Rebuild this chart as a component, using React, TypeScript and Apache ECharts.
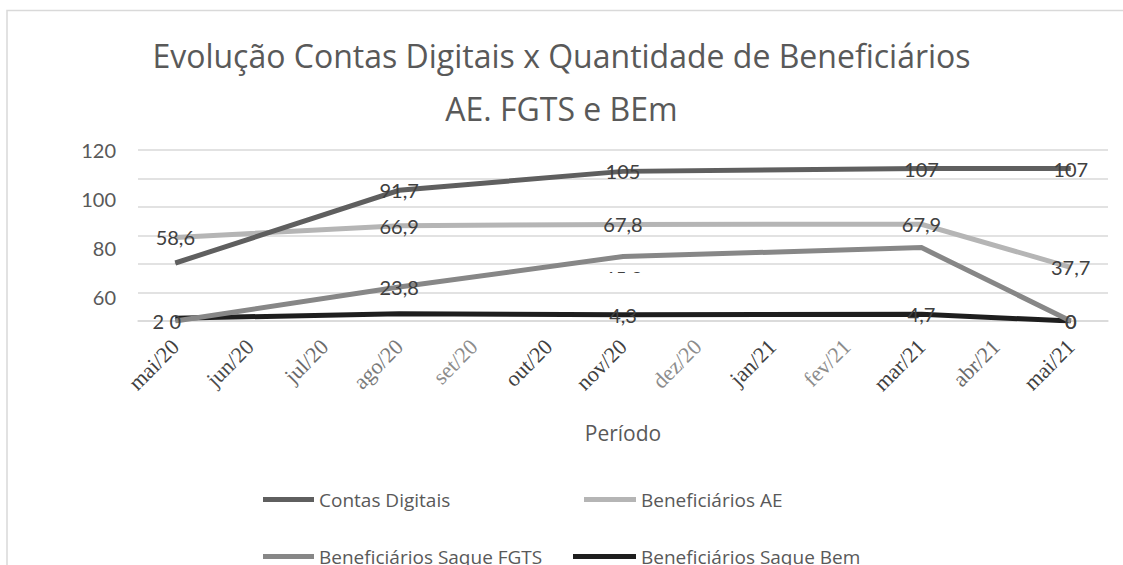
import React, { useEffect, useRef } from "react";
import * as echarts from "echarts";

const months = ["mai/20","jun/20","jul/20","ago/20","set/20","out/20","nov/20","dez/20","jan/21","fev/21","mar/21","abr/21","mai/21"];
const contasDigitais = [40.7, null, null, 91.7, null, null, 105, null, null, null, 107, null, 107];
const beneficiariosAE = [58.6, null, null, 66.9, null, null, 67.8, null, null, null, 67.9, null, 37.7];
const saqueFGTS = [0, null, null, 23.8, null, null, 45.2, null, null, null, 51.5, null, 0];
const saqueBem = [2, null, null, 5, null, null, 4.3, null, null, null, 4.7, null, 0];
const yTickLabels = [120, 100, 80, 60];
const titleLines = ["Evolução Contas Digitais x Quantidade de Beneficiários", "AE. FGTS e BEm"];
const seriesNames = ["Contas Digitais", "Beneficiários AE", "Beneficiários Saque FGTS", "Beneficiários Saque Bem"];
// indices whose labels are not visible in the reference
const hiddenLabels: number[][] = [[0], [], [10], [3]];
const monthTone = ["#404040","#4a4a4a","#6a6a6a","#7a7a7a","#8c8c8c","#404040","#404040","#8c8c8c","#404040","#8c8c8c","#404040","#6a6a6a","#404040"];

const colors = ["#5f5f5f", "#b5b5b5", "#878787", "#1e1e1e"];

export default function App() {
  const ref = useRef<HTMLDivElement>(null);
  useEffect(() => {
    if (!ref.current) return;
    const chart = echarts.init(ref.current, null, { renderer: "svg" });
    const all = [contasDigitais, beneficiariosAE, saqueFGTS, saqueBem];
    const labelFont = { fontFamily: "Lato", fontSize: 20, color: "#404040" };
    const series = all.map((arr, si) => ({
      name: seriesNames[si],
      type: "line",
      yAxisIndex: 0,
      connectNulls: true,
      symbol: "circle",
      symbolSize: 1,
      lineStyle: { width: 5, color: colors[si], cap: "butt", join: "miter" },
      itemStyle: { color: colors[si] },
      label: { show: true, position: "inside", ...labelFont, formatter: (p: any) => String(p.value).replace(".", ",") },
      emphasis: { disabled: true },
      z: 10 - si,
      data: arr.map((v, i) => {
        if (v === null) return null;
        const item: any = { value: v };
        if (hiddenLabels[si].includes(i)) item.label = { show: false };
        if (si === 2 && i === 6) item.label = { offset: [0, 21] };
        if (si === 3 && i === 0) item.label = { offset: [-17, 3] };
        return item;
      }),
    }));
    const legendBase = {
      icon: "rect",
      itemHeight: 5,
      itemGap: 0,
      textStyle: { fontFamily: "Open Sans", fontSize: 19, color: "#595959" },
      selectedMode: false,
    };
    const titleStyle = { fontFamily: "Open Sans", fontSize: 32, fontWeight: "normal", color: "#595959", lineHeight: 40 };
    chart.setOption({
      animation: false,
      title: [
        { text: titleLines[0], left: "center", top: 30, textStyle: titleStyle },
        { text: titleLines[1], left: "center", top: 83, textStyle: titleStyle },
      ],
      legend: [
        { ...legendBase, data: [seriesNames[0]], left: 258, top: 485, itemWidth: 51 },
        { ...legendBase, data: [seriesNames[1]], left: 579, top: 485, itemWidth: 52 },
        { ...legendBase, data: [seriesNames[2]], left: 258, top: 542, itemWidth: 51 },
        { ...legendBase, data: [seriesNames[3]], left: 568, top: 542, itemWidth: 63 },
      ],
      grid: { left: 138, right: 15, top: 150, bottom: 244, containLabel: false },
      xAxis: {
        type: "category",
        data: months.map((m, i) => ({ value: m, textStyle: { color: monthTone[i] } })),
        boundaryGap: true,
        axisLine: { show: true, lineStyle: { color: "#d9d9d9", width: 1.5 } },
        axisTick: { show: false },
        axisLabel: { rotate: 45, fontFamily: "Liberation Serif", fontSize: 22, margin: 22, interval: 0 },
        name: "Período",
        nameLocation: "middle",
        nameGap: 101,
        nameTextStyle: { fontFamily: "Open Sans", fontSize: 21, color: "#595959" },
      },
      yAxis: [
        {
          type: "value",
          min: 0,
          max: 120,
          interval: 20,
          axisLabel: { show: false },
          axisLine: { show: false },
          axisTick: { show: false },
          splitLine: { show: true, lineStyle: { color: "#d9d9d9", width: 1.5 } },
        },
        {
          type: "value",
          position: "left",
          min: 50,
          max: 120,
          interval: 10,
          axisLine: { show: false },
          axisTick: { show: false },
          splitLine: { show: false },
          axisLabel: {
            margin: 22,
            fontFamily: "Lato",
            fontSize: 20,
            color: "#595959",
            formatter: (v: number) => (yTickLabels.includes(v) ? String(v) : ""),
          },
        },
      ],
      series,
    });
    const p = chart.convertToPixel({ seriesIndex: 2 }, [6, saqueFGTS[6] as number]) as number[];
    chart.setOption({
      graphic: [
        {
          type: "polyline",
          shape: { points: [[7, 565], [7, 10.5], [1123, 10.5]] },
          style: { stroke: "#d9d9d9", lineWidth: 1.5, fill: null },
          silent: true,
        },
        {
          type: "rect",
          shape: { x: p[0] - 30, y: p[1] + 16.5, width: 60, height: 17 },
          style: { fill: "#ffffff" },
          z: 100,
          silent: true,
        },
      ],
    });
    return () => chart.dispose();
  }, []);
  return <div ref={ref} style={{ position: "absolute", left: 0, top: 0, width: 1123, height: 565, background: "#fff" }} />;
}
